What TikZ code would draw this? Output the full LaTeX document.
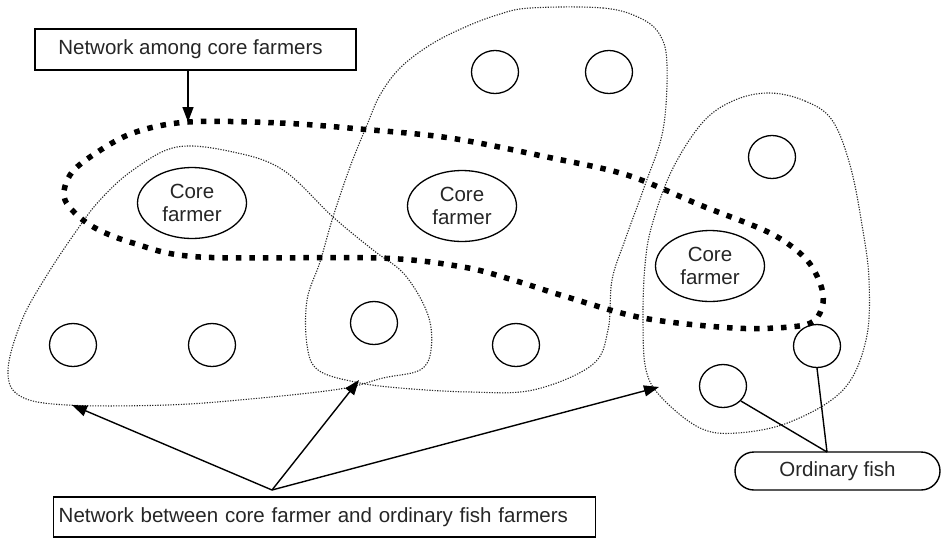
\documentclass[tikz,border=0pt]{standalone}
\usepackage{fontspec}
\setmainfont{Liberation Sans}
\usetikzlibrary{shapes.geometric,arrows.meta,calc}
\begin{document}
\begin{tikzpicture}[x=1pt,y=-1pt,
  every node/.style={font=\fontsize{20.5}{23}\selectfont, text=black!85},
  fishcircle/.style={draw, ellipse, line width=1.3pt, minimum width=47pt, minimum height=43pt, inner sep=0pt},
  corefarmer/.style={draw, ellipse, line width=1.3pt, minimum width=109pt, minimum height=71pt, inner sep=0pt, align=center},
  labelbox/.style={draw, line width=1.4pt, inner sep=0pt},
  groupline/.style={line width=1.1pt, dash pattern=on 1.2pt off 1.4pt, black!85},
  coreline/.style={line width=5.5pt, dash pattern=on 5.5pt off 8pt, black},
  pointer/.style={line width=1.4pt, -{Triangle[length=15pt,width=11pt]}}
]
\useasboundingbox (0,0) rectangle (941,541);
\fill[white] (0,0) rectangle (941,541);

% thin dotted groups
\draw[groupline] plot[smooth cycle, tension=0.6] coordinates {
  (177,147) (233,152) (283,170) (333,217) (373,250) (405,275) (428,315) (431,350) (420,370) (383,378) (340,389) (250,399) (167,405) (67,405) (20,396) (8,370) (22,320) (47,275) (77,230) (100,200) (133,170)};
\draw[groupline] plot[smooth cycle, tension=0.6] coordinates {
  (530,8) (603,8) (640,18) (660,35) (667,65) (663,130) (645,185) (625,240) (612,280) (608,330) (592,365) (533,390) (470,392) (400,388) (355,382) (318,370) (307,345) (307,300) (320,262) (333,217) (350,167) (367,125) (380,95) (400,68) (430,45) (463,28) (497,15)};
\draw[groupline] plot[smooth cycle, tension=0.6] coordinates {
  (770,93) (805,101) (832,120) (850,165) (862,225) (869,280) (866,340) (843,390) (790,422) (737,433) (700,428) (662,398) (646,370) (643,320) (645,265) (652,225) (672,170) (703,122) (735,100)};

% thick dotted loop among core farmers
\draw[coreline] plot[smooth cycle, tension=0.55] coordinates {
  (188,122) (280,123) (360,129) (450,138) (547,157) (627,175) (700,205) (770,233) (805,258) (820,283) (823,303) (814,321) (790,327) (733,328) (643,318) (567,297) (513,280) (463,267) (380,258) (200,257) (133,243) (90,225) (65,200) (70,175) (93,155) (133,133)};

% core farmers
\node[corefarmer] (cf1) at (192,203) {Core\\farmer};
\node[corefarmer] (cf2) at (462,206) {Core\\farmer};
\node[corefarmer] (cf3) at (710,266) {Core\\farmer};

% ordinary fish farmers
\node[fishcircle] (f1) at (495,72) {};
\node[fishcircle] (f2) at (609,72) {};
\node[fishcircle] (f3) at (772,157) {};
\node[fishcircle] (f4) at (73,345) {};
\node[fishcircle] (f5) at (212,345) {};
\node[fishcircle] (f6) at (374,323) {};
\node[fishcircle] (f7) at (516,345) {};
\node[fishcircle] (f8) at (817,346) {};
\node[fishcircle] (f9) at (723,386) {};

% label boxes
\node[labelbox, minimum width=321pt, minimum height=41pt] (among) at (195.5,49.5) {\hspace*{-10pt}Network among core farmers};
\node[labelbox, minimum width=542pt, minimum height=40pt, anchor=west, text width=532pt, inner xsep=5pt, align=left] (between) at (53,517) {Network between core farmer and ordinary fish farmers};
\node[labelbox, rounded corners=19pt, minimum width=205pt, minimum height=38pt] (ordfish) at (837.5,471) {Ordinary fish};

% arrow targets
\coordinate (loopTop) at (188,122);
\coordinate (src) at (272,490);
\coordinate (tL) at (72,405);
\coordinate (tM) at (359,380);
\coordinate (tR) at (659,387);
\coordinate (ofjoin) at (827,452);

\draw[pointer] (among.south -| loopTop) -- (loopTop);
\draw[pointer] (src) -- (tL);
\draw[pointer] (src) -- (tM);
\draw[pointer] (src) -- (tR);
\draw[line width=1.4pt] (ofjoin) -- (f8.south);
\draw[line width=1.4pt] (ofjoin) -- (f9.-40);
\end{tikzpicture}
\end{document}
